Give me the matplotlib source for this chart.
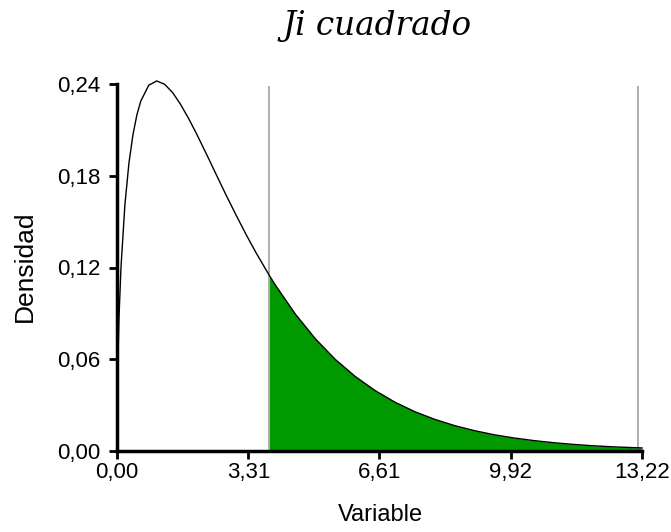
import matplotlib
matplotlib.use("Agg")
import matplotlib.pyplot as plt
import numpy as np

# Curve points (Ji cuadrado density)
x_vals = [0.0, 0.02, 0.05, 0.1, 0.2, 0.3, 0.4, 0.5, 0.6, 0.8, 1.0, 1.2, 1.4, 1.6,
          1.8, 2.0, 2.25, 2.5, 2.75, 3.0, 3.25, 3.5, 3.84, 4.0, 4.5, 5.0, 5.5,
          6.0, 6.5, 7.0, 7.5, 8.0, 8.5, 9.0, 9.5, 10.0, 10.5, 11.0, 11.5, 12.0,
          12.5, 13.0, 13.22]
y_vals = [0.0, 0.0559, 0.0870, 0.1200, 0.1614, 0.1881, 0.2066, 0.2197, 0.2289,
          0.2392, 0.2420, 0.2398, 0.2344, 0.2267, 0.2176, 0.2076, 0.1943, 0.1807,
          0.1672, 0.1542, 0.1416, 0.1297, 0.1146, 0.1080, 0.0892, 0.0732, 0.0598,
          0.0487, 0.0395, 0.0319, 0.0257, 0.0207, 0.0166, 0.0133, 0.0106, 0.0085,
          0.0068, 0.0054, 0.0043, 0.0034, 0.0027, 0.0022, 0.0020]
critical = 3.84
x_max = 13.22
x_ticks = [0.0, 3.31, 6.61, 9.92, 13.22]
x_tick_labels = ["0,00", "3,31", "6,61", "9,92", "13,22"]
y_ticks = [0.0, 0.06, 0.12, 0.18, 0.24]
y_tick_labels = ["0,00", "0,06", "0,12", "0,18", "0,24"]

x = np.array(x_vals)
y = np.array(y_vals)

fig = plt.figure(figsize=(6.71, 5.32), dpi=100)
ax = fig.add_axes([117/671, 1-451/532, (642-117)/671, (451-84)/532])

mask = x >= critical
ax.fill_between(x[mask], 0, y[mask], color="#009900", linewidth=0, zorder=2)
ax.plot(x, y, color="black", linewidth=1.0, zorder=3, clip_on=False)
ax.vlines([critical, x_max - 0.1], 0, 0.2385, color="#a0a0a0", linewidth=1.2, zorder=1)

ax.set_xlim(0, x_max)
ax.set_ylim(0, 0.24)
ax.set_xticks(x_ticks)
ax.set_xticklabels(x_tick_labels)
ax.set_yticks(y_ticks)
ax.set_yticklabels(y_tick_labels)

for s in ["top", "right"]:
    ax.spines[s].set_visible(False)
for s in ["left", "bottom"]:
    ax.spines[s].set_linewidth(2.5)

ax.tick_params(direction="out", length=6, width=2, labelsize=16,
               colors="black", pad=2)
ax.tick_params(axis="y", pad=6)
for lbl in ax.get_xticklabels() + ax.get_yticklabels():
    lbl.set_fontfamily("Liberation Sans")

fig.text(380/671, 1-515/532, "Variable", ha="center", va="center",
         fontsize=17, family="Liberation Sans")
fig.text(25/671, 1-266/532, "Densidad", ha="center", va="center",
         rotation=90, fontsize=19, family="Liberation Sans")

fig.text(377/671, 1-26/532, "Ji cuadrado", ha="center", va="center",
         fontsize=23.5, family="DejaVu Serif", style="italic")

fig.savefig("out.png", dpi=100)
